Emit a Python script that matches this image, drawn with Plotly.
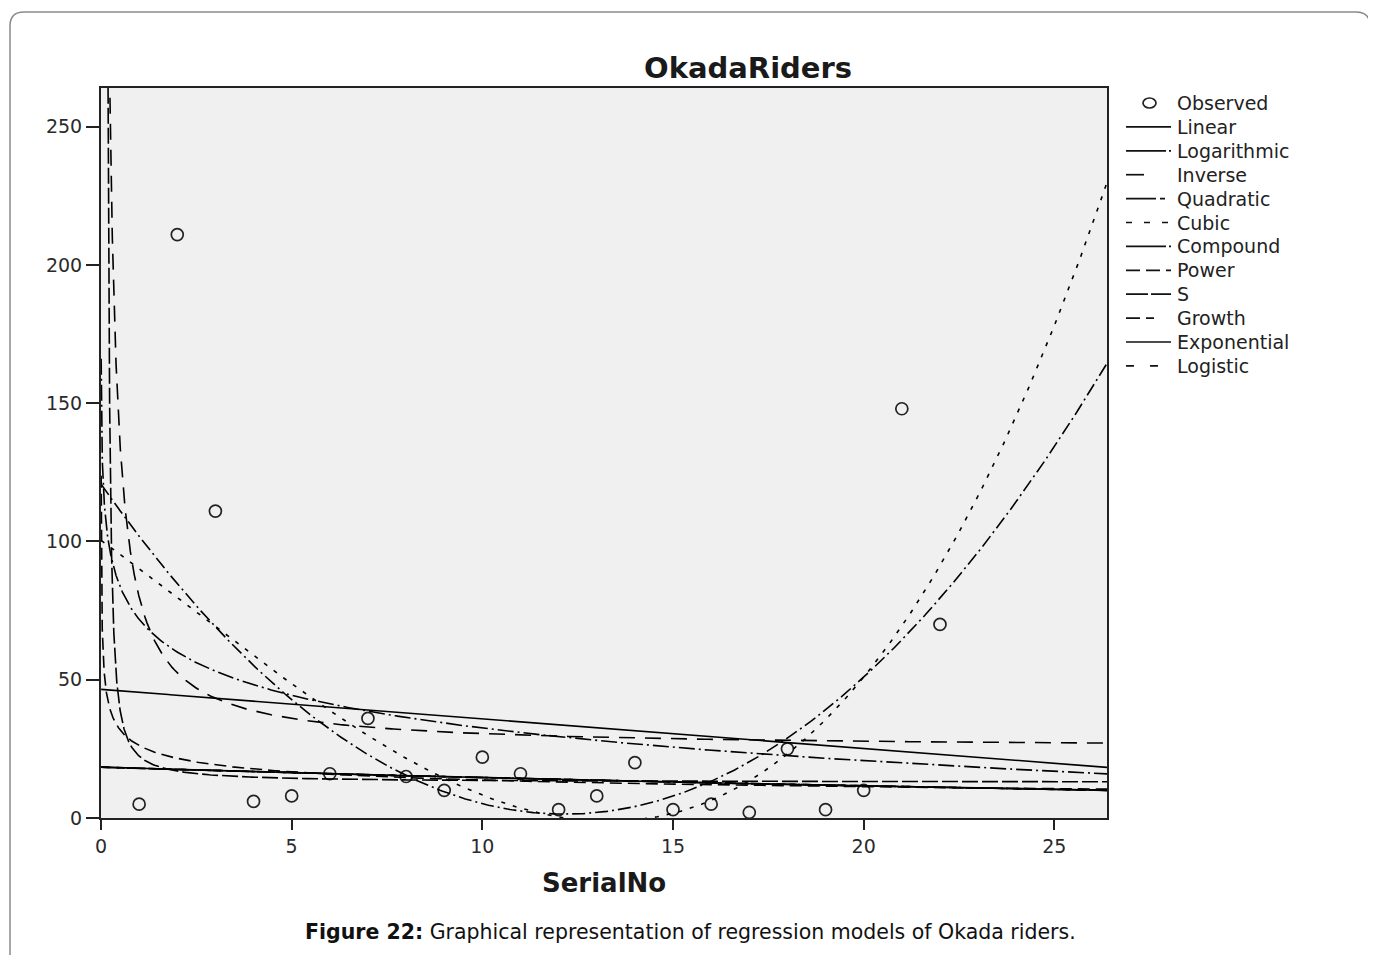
import numpy as np
import plotly.graph_objects as go

# ---- data ----
serial_no = [1, 2, 3, 4, 5, 6, 7, 8, 9, 10, 11, 12, 13, 14, 15, 16, 17, 18, 19, 20, 21, 22]
observed = [5, 211, 111, 6, 8, 16, 36, 15, 10, 22, 16, 3, 8, 20, 3, 5, 2, 25, 3, 10, 148, 70]
model_names = ["Linear", "Logarithmic", "Inverse", "Quadratic", "Cubic", "Compound",
               "Power", "S", "Growth", "Exponential", "Logistic"]
x_ticks = [0, 5, 10, 15, 20, 25]
y_ticks = [0, 50, 100, 150, 200, 250]

x = np.array(serial_no, float)
y = np.array(observed, float)
ly = np.log(y)

# fitted regression models (curve estimation on the observed data)
xs = np.concatenate([np.linspace(0.004, 1.0, 500), np.linspace(1.0, 26.4, 500)])

def fit_lin(u, v):
    b1, b0 = np.polyfit(u, v, 1)
    return b0, b1

curves = {}
b0, b1 = fit_lin(x, y); curves["Linear"] = b0 + b1 * xs
b0, b1 = fit_lin(np.log(x), y); curves["Logarithmic"] = b0 + b1 * np.log(xs)
b0, b1 = fit_lin(1 / x, y); curves["Inverse"] = b0 + b1 / xs
curves["Quadratic"] = np.polyval(np.polyfit(x, y, 2), xs)
curves["Cubic"] = np.polyval(np.polyfit(x, y, 3), xs)
b0, b1 = fit_lin(x, ly); expfit = np.exp(b0 + b1 * xs)
curves["Compound"] = expfit
b0, b1 = fit_lin(np.log(x), ly); curves["Power"] = np.exp(b0 + b1 * np.log(xs))
b0, b1 = fit_lin(1 / x, ly); curves["S"] = np.exp(b0 + b1 / xs)
curves["Growth"] = expfit
curves["Exponential"] = expfit
curves["Logistic"] = expfit

dashes = {
    "Linear": "solid",
    "Logarithmic": "16px,4px,2px,4px",
    "Inverse": "16px,10px",
    "Quadratic": "13px,4px,2px,4px",
    "Cubic": "4px,8px",
    "Compound": "18px,3px,2px,3px",
    "Power": "12px,6px",
    "S": "16px,4px",
    "Growth": "10px,5px,5px,5px",
    "Exponential": "solid",
    "Logistic": "8px,8px",
}
legend_dashes = {
    "Linear": "solid",
    "Logarithmic": "40px,3px,2px,3px",
    "Inverse": "18px,30px",
    "Quadratic": "30px,4px,5px,10px",
    "Cubic": "6px,12px",
    "Compound": "40px,3px,2px,3px",
    "Power": "14px,6px",
    "S": "22px,3px",
    "Growth": "14px,6px,8px,20px",
    "Exponential": "solid",
    "Logistic": "8px,16px",
}

FONT = "DejaVu Sans"
fig = go.Figure()
fig.add_trace(go.Scatter(
    x=serial_no, y=observed, mode="markers", name="Observed", showlegend=False,
    marker=dict(symbol="circle-open", size=12, color="#222", line=dict(width=1.7, color="#222")),
))
for name in model_names:
    yy = np.clip(curves[name], -50, 2000)
    fig.add_trace(go.Scatter(
        x=xs, y=yy, mode="lines", name=name, showlegend=False,
        line=dict(color="black", width=1.6, dash=dashes[name]),
    ))

# figure sits at page offset (8, 8) because of the default body margin
OFF = 8
W, H = 1368, 947
L, T = 101 - OFF, 88 - OFF
R = W - (1107 - OFF)
B = H - (818 - OFF)
pw, ph = W - L - R, H - T - B

def px(xp):
    return (xp - 101) / pw

def py(yp):
    return (818 - yp) / ph

# outer rounded frame
r = 14
fig.add_shape(type="path",
              path=(f"M {px(10)},{py(975)} L {px(10)},{py(12 + r)} Q {px(10)},{py(12)} {px(10 + r)},{py(12)} "
                    f"L {px(1370 - r)},{py(12)} Q {px(1370)},{py(12)} {px(1370)},{py(12 + r)} L {px(1370)},{py(975)}"),
              xref="paper", yref="paper", line=dict(color="#8a8a8a", width=1.5), layer="above")

# legend (drawn manually to match spacing)
entries = ["Observed"] + model_names
for i, name in enumerate(entries):
    yc = 103 + i * 23.9
    fig.add_annotation(text=name, x=px(1175), y=py(yc), xref="paper", yref="paper",
                       showarrow=False, xanchor="left", yanchor="middle",
                       font=dict(size=19, color="#222", family=FONT))
    if name == "Observed":
        fig.add_shape(type="circle", xref="paper", yref="paper",
                      x0=px(1143), x1=px(1156), y0=py(yc - 5), y1=py(yc + 5),
                      line=dict(color="#222", width=1.7))
    else:
        fig.add_shape(type="line", xref="paper", yref="paper",
                      x0=px(1126), x1=px(1171), y0=py(yc), y1=py(yc),
                      line=dict(color="#111", width=1.7, dash=legend_dashes[name]))

fig.add_annotation(text="<b>OkadaRiders</b>", x=px(748), y=py(68), xref="paper", yref="paper",
                   showarrow=False, font=dict(size=29, color="#1a1a1a", family=FONT),
                   xanchor="center", yanchor="middle")
fig.add_annotation(text="<b>SerialNo</b>", x=px(604), y=py(883), xref="paper", yref="paper",
                   showarrow=False, font=dict(size=26, color="#1a1a1a", family=FONT),
                   xanchor="center", yanchor="middle")
fig.add_annotation(text="<b>Figure 22:</b> Graphical representation of regression models of Okada riders.",
                   x=px(690), y=py(932), xref="paper", yref="paper", showarrow=False,
                   font=dict(size=20.5, color="#111", family=FONT),
                   xanchor="center", yanchor="middle")

fig.update_layout(
    width=W, height=H,
    margin=dict(l=L, r=R, t=T, b=B, autoexpand=False),
    paper_bgcolor="white", plot_bgcolor="#f0f0f0",
    font=dict(family=FONT, color="#222", size=19),
    showlegend=False,
    xaxis=dict(range=[0, 26.38], tickvals=x_ticks, ticks="outside", ticklen=10, tickwidth=1.5,
               tickcolor="#222", showgrid=False, zeroline=False, showline=True, linecolor="#222",
               linewidth=2, mirror=True, tickfont=dict(size=19, color="#2a2a2a")),
    yaxis=dict(range=[0, 264], tickvals=y_ticks, ticks="outside", ticklen=13, tickwidth=1.5,
               tickcolor="#222", showgrid=False, zeroline=False, showline=True, linecolor="#222",
               linewidth=2, mirror=True, tickfont=dict(size=19, color="#2a2a2a")),
)

fig.write_html("out.html")
